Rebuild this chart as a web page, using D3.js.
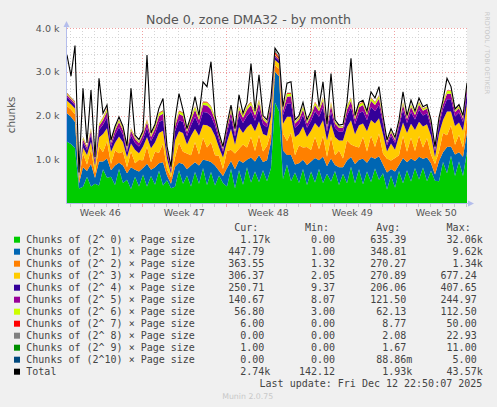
<!doctype html>
<html lang="en">
<head>
<meta charset="utf-8">
<script src="https://d3js.org/d3.v7.min.js"></script>
<style>
  body { margin:0; background:#f0f0f0; }
  svg { display:block; }
  .title { font-family:"DejaVu Sans"; font-size:12.6px; fill:#555; text-anchor:middle; }
  .tick-label { font-family:"DejaVu Sans"; font-size:9.5px; fill:#555; }
  .legend { font-family:"DejaVu Sans Mono"; font-size:10px; fill:#444; white-space:pre; }
  .grid-minor { stroke:#d4d4d4; stroke-dasharray:1,2; shape-rendering:crispEdges; }
  .grid-major { stroke:#f0a0a0; stroke-dasharray:1,2; shape-rendering:crispEdges; }
  .faint { font-family:"DejaVu Sans"; fill:#c8c8c8; }
</style>
</head>
<body>
<div id="chart"></div>
<script>
// series names / colours (munin palette)
const seriesNames = [
  "Chunks of (2^ 0) × Page size", "Chunks of (2^ 1) × Page size",
  "Chunks of (2^ 2) × Page size", "Chunks of (2^ 3) × Page size",
  "Chunks of (2^ 4) × Page size", "Chunks of (2^ 5) × Page size",
  "Chunks of (2^ 6) × Page size", "Chunks of (2^ 7) × Page size",
  "Chunks of (2^ 8) × Page size", "Chunks of (2^ 9) × Page size",
  "Chunks of (2^10) × Page size"
];
const seriesColors = ["#00cc00","#0066b3","#ff8000","#ffcc00","#330099","#990099",
                      "#ccff00","#ff0000","#808080","#008f00","#00487d"];

// one sample every 8 hours, starting here
const startTime = Date.UTC(2025, 10, 10, 17, 24);
const stepHours = 8;

const order0 = [1400,1350,1250,330,370,600,380,440,400,770,
  580,600,410,780,460,530,320,600,380,650,
  380,620,420,740,400,520,340,370,750,440,
  630,380,710,440,800,410,710,400,630,460,
  380,780,340,750,420,820,470,720,480,750,
  500,800,2300,2100,550,880,500,700,460,780,
  410,720,470,780,460,670,490,730,410,670,
  450,830,450,770,430,720,480,790,530,680,
  310,630,350,730,450,750,490,800,540,810,
  500,740,510,500,940,680,1080,620,950,620,
  1170];
const order1 = [650,620,600,120,450,130,510,130,550,180,
  440,150,450,140,400,150,500,160,340,150,
  520,140,400,170,530,110,100,460,170,450,
  140,480,220,420,190,560,230,460,110,160,
  420,180,430,230,500,170,570,230,620,190,
  480,600,700,800,650,220,600,180,450,210,
  460,230,560,200,600,170,530,140,410,150,
  520,220,440,220,580,200,570,220,540,200,
  390,150,370,140,580,180,530,160,520,200,
  540,170,140,460,220,600,210,490,210,440,
  448];
const order2 = [170,170,180,90,310,150,340,110,350,210,
  390,140,340,220,310,140,360,150,270,170,
  390,170,350,240,430,140,150,210,450,280,
  360,230,460,250,500,300,450,230,340,160,
  390,260,360,260,420,280,470,240,450,240,
  330,220,150,170,390,320,510,210,410,280,
  410,260,480,250,480,220,490,220,380,200,
  460,290,410,280,500,260,490,270,520,250,
  310,190,310,220,500,240,470,230,480,260,
  440,200,240,220,440,270,480,220,400,210,
  364];
const order3 = [120,120,130,60,140,220,170,170,200,420,
  300,280,180,380,220,230,180,310,150,320,
  220,320,220,450,290,250,80,390,270,430,
  210,450,310,430,300,510,330,450,190,260,
  210,480,200,500,260,460,300,450,320,400,
  230,350,120,120,220,550,360,420,260,480,
  230,440,320,490,350,370,310,420,230,410,
  310,550,270,510,310,460,360,540,350,440,
  170,390,190,440,310,430,320,480,320,480,
  320,430,160,410,300,540,320,430,280,380,
  306];
const order4 = [80,70,70,40,120,110,170,80,170,210,
  250,130,180,210,170,110,190,160,150,170,
  210,170,200,250,250,130,70,210,250,250,
  190,230,270,230,290,290,270,230,170,130,
  210,260,190,270,230,260,280,240,280,220,
  190,190,70,60,200,300,310,210,220,260,
  210,230,270,250,300,200,270,210,200,200,
  260,300,230,270,280,250,300,280,300,240,
  140,180,150,210,290,230,270,240,270,250,
  250,200,120,200,250,280,280,220,230,200,
  251];
const order5 = [50,45,45,25,70,60,90,50,90,110,
  130,70,100,120,100,60,110,90,80,100,
  130,90,110,140,140,70,40,110,150,140,
  100,130,160,130,160,160,150,130,90,60,
  100,130,90,130,120,140,150,120,140,110,
  90,100,40,30,100,160,160,100,110,130,
  100,120,140,130,150,90,150,100,90,90,
  140,150,110,140,140,120,140,140,150,100,
  60,80,60,80,120,90,120,100,120,110,
  110,80,60,80,110,130,130,100,100,80,
  141];
const order6 = [30,25,25,15,40,30,40,20,40,50,
  60,30,40,50,40,30,40,30,30,40,
  50,40,50,60,60,30,20,50,60,60,
  40,50,70,50,60,70,60,50,40,20,
  40,60,40,60,50,70,60,50,60,40,
  30,40,20,20,40,70,60,30,40,60,
  30,50,60,50,60,30,60,30,30,30,
  60,60,40,60,60,40,60,60,60,40,
  20,30,20,30,50,30,50,40,50,40,
  40,30,20,30,50,60,60,30,40,30,
  57];
const order7 = [12,10,14,4,9,8,11,6,10,12,
  15,7,9,11,8,5,10,8,7,9,
  12,8,10,13,14,6,3,9,12,11,
  8,10,14,10,13,12,11,9,6,4,
  8,11,7,12,10,12,13,10,14,9,
  8,9,50,30,9,14,13,8,9,11,
  8,10,12,11,13,7,12,8,7,7,
  11,13,9,11,12,10,12,11,13,8,
  4,6,5,7,10,7,9,8,9,8,
  8,6,3,6,8,9,9,6,7,5,
  6];
const order8 = [4,3,5,0,2,1,3,1,2,3,
  4,1,2,3,2,0,2,1,1,2,
  3,2,2,3,3,1,0,2,3,3,
  2,2,3,2,3,3,2,2,1,0,
  2,2,1,3,2,3,3,2,3,2,
  2,2,23,12,2,3,3,1,2,2,
  1,2,3,2,3,1,2,1,1,1,
  2,3,2,2,3,2,3,2,3,1,
  0,1,0,1,2,1,2,1,2,1,
  1,1,0,1,1,2,2,1,1,0,
  0];
const order9 = [3,2,3,0,2,1,2,1,2,2,
  3,1,2,2,1,0,2,1,1,2,
  2,1,2,2,3,1,0,2,2,2,
  1,2,2,2,3,2,2,2,1,0,
  1,2,1,2,2,2,3,2,2,1,
  2,2,11,6,2,2,2,1,2,2,
  1,2,2,2,2,1,2,1,1,1,
  2,2,1,2,2,2,2,2,2,1,
  0,1,1,1,2,1,2,1,2,1,
  1,1,0,1,1,2,2,1,1,1,
  1];
const order10 = [0,0,1,0,0,0,0,0,0,0,
  0,0,0,0,0,0,0,0,0,0,
  0,0,0,0,0,0,0,0,0,0,
  0,0,0,0,0,0,0,0,0,0,
  0,0,0,0,0,0,0,0,0,0,
  0,0,5,2,0,0,0,0,0,0,
  0,0,0,0,0,0,0,0,0,0,
  0,0,0,0,0,0,0,0,0,0,
  0,0,0,0,0,0,0,0,0,0,
  0,0,0,0,0,0,0,0,0,0,
  0];
const total = [3380,2900,3600,700,2620,1370,2580,1050,2850,2050,
  2240,1440,1750,1970,1750,1300,2620,1550,1450,1650,
  3380,1600,1800,2170,2390,1300,830,1900,2500,2130,
  1700,2000,2430,2000,2770,2660,3230,2000,1600,1290,
  1800,2240,1700,2470,2050,2300,3190,2100,2930,2000,
  1900,2400,3540,3400,2200,2740,2770,1900,2000,2300,
  1900,2100,3040,2200,2770,1800,2960,1900,1780,1800,
  2300,3310,2000,2300,2350,2100,2540,2400,2660,2000,
  1440,1700,1500,1900,2540,2000,2350,2100,2400,2200,
  2250,1900,1290,1950,2350,2850,2660,2150,2250,2000,
  2744];

// legend stats (last entry = Total)
const curStats = [1170, 447.79, 363.55, 306.37, 250.71, 140.67, 56.80, 6.00, 0.00, 1.00, 0.00, 2740];
const minStats = [0.00, 1.00, 1.32, 2.05, 9.37, 8.07, 3.00, 0.00, 0.00, 0.00, 0.00, 142.12];
const avgStats = [635.39, 348.81, 270.27, 270.89, 206.06, 121.50, 62.13, 8.77, 2.08, 1.67, 0.08886, 1930];
const maxStats = [32060, 9620, 1340, 677.24, 407.65, 244.97, 112.50, 50.00, 22.93, 11.00, 5.00, 43570];

const yTicks = [1000, 2000, 3000, 4000];
const yMax = 4000;

const W = 497, H = 407;
const plot = {left: 67, right: 467, top: 28, bottom: 203};

const allSeries = [order0, order1, order2, order3, order4, order5, order6, order7, order8, order9, order10];
const rows = total.map(function(t, i) {
  let r = {time: new Date(startTime + i * stepHours * 3600e3), total: t};
  allSeries.forEach(function(s, k) { r["s" + k] = s[i]; });
  return r;
});
const keys = allSeries.map((s, k) => "s" + k);
const endTime = new Date(startTime + (total.length - 1) * stepHours * 3600e3);

const svg = d3.select("#chart").append("svg")
  .attr("width", W).attr("height", H);
svg.append("rect").attr("width", W).attr("height", H).attr("fill", "#f0f0f0");

const x = d3.scaleUtc().domain([new Date(startTime), endTime]).range([plot.left, plot.right]);
const y = d3.scaleLinear().domain([0, yMax]).range([plot.bottom, plot.top]);

// plot background
svg.append("rect")
  .attr("x", plot.left).attr("y", plot.top)
  .attr("width", plot.right - plot.left).attr("height", plot.bottom - plot.top)
  .attr("fill", "#ffffff");

// grid
const grid = svg.append("g");
const minorY = d3.range(200, yMax + 1, 200).filter(v => v % 1000 !== 0);
grid.selectAll(".hmin").data(minorY).enter().append("line")
  .attr("class", "grid-minor")
  .attr("x1", plot.left).attr("x2", plot.right)
  .attr("y1", d => Math.round(y(d)) + 0.5).attr("y2", d => Math.round(y(d)) + 0.5);
const days = d3.utcDay.range(x.domain()[0], x.domain()[1]).filter(d => d.getUTCDay() !== 1);
grid.selectAll(".vmin").data(days).enter().append("line")
  .attr("class", "grid-minor")
  .attr("x1", d => Math.round(x(d)) + 0.5).attr("x2", d => Math.round(x(d)) + 0.5)
  .attr("y1", plot.top).attr("y2", plot.bottom);
grid.selectAll(".hmaj").data(yTicks).enter().append("line")
  .attr("class", "grid-major")
  .attr("x1", plot.left).attr("x2", plot.right)
  .attr("y1", d => Math.round(y(d)) + 0.5).attr("y2", d => Math.round(y(d)) + 0.5);
const mondays = d3.utcMonday.range(x.domain()[0], x.domain()[1]);
grid.selectAll(".vmaj").data(mondays).enter().append("line")
  .attr("class", "grid-major")
  .attr("x1", d => Math.round(x(d)) + 0.5).attr("x2", d => Math.round(x(d)) + 0.5)
  .attr("y1", plot.top).attr("y2", plot.bottom);

// stacked areas
svg.append("clipPath").attr("id", "clip").append("rect")
  .attr("x", plot.left).attr("y", plot.top - 10)
  .attr("width", plot.right - plot.left).attr("height", plot.bottom - plot.top + 10);

const stacked = d3.stack().keys(keys)(rows);
const area = d3.area()
  .x(d => x(d.data.time))
  .y0(d => y(d[0]))
  .y1(d => y(d[1]));

const g = svg.append("g").attr("clip-path", "url(#clip)");
g.selectAll(".layer").data(stacked).enter().append("path")
  .attr("class", "layer")
  .attr("fill", (d, i) => seriesColors[i])
  .attr("d", area);

const totalLine = d3.line().x(d => x(d.time)).y(d => y(d.total));
g.append("path").datum(rows)
  .attr("fill", "none").attr("stroke", "#000").attr("stroke-width", 1.1)
  .attr("d", totalLine);

// axes
const axisColor = "#b4bdec";
svg.append("line").attr("x1", plot.left - 0.5).attr("x2", plot.left - 0.5)
  .attr("y1", plot.bottom + 0.5).attr("y2", 24).attr("stroke", axisColor);
svg.append("path").attr("d", `M${plot.left - 3.5},27 L${plot.left + 2.5},27 L${plot.left - 0.5},21 Z`).attr("fill", axisColor);
svg.append("line").attr("x1", plot.left - 0.5).attr("x2", 471)
  .attr("y1", plot.bottom + 0.5).attr("y2", plot.bottom + 0.5).attr("stroke", axisColor);
svg.append("path").attr("d", `M468,${plot.bottom - 2.5} L468,${plot.bottom + 3.5} L474,${plot.bottom + 0.5} Z`).attr("fill", axisColor);

// small tick marks under the x axis
svg.selectAll(".xt").data(days.concat(mondays)).enter().append("line")
  .attr("x1", d => Math.round(x(d)) + 0.5).attr("x2", d => Math.round(x(d)) + 0.5)
  .attr("y1", plot.bottom + 1).attr("y2", plot.bottom + 4)
  .attr("stroke", d => d.getUTCDay() === 1 ? "#f0a0a0" : "#c8c8c8");

// y tick labels
svg.selectAll(".ylab").data(yTicks).enter().append("text")
  .attr("class", "tick-label")
  .attr("text-anchor", "end")
  .attr("x", 59.5).attr("y", d => y(d) + 3.5)
  .text(d => (d / 1000).toFixed(1) + " k");

// week labels centred in each week
const weekFmt = d3.utcFormat("%V");
const weekStarts = d3.utcMonday.range(d3.utcMonday.floor(x.domain()[0]), x.domain()[1]);
svg.selectAll(".xlab").data(weekStarts.filter(function(m) {
    const mid = x(new Date(+m + 3.5 * 864e5));
    return mid > plot.left + 15 && mid < plot.right - 15;
  })).enter().append("text")
  .attr("class", "tick-label")
  .attr("text-anchor", "middle")
  .attr("x", d => x(new Date(+d + 3.5 * 864e5)))
  .attr("y", 215.5)
  .text(d => "Week " + weekFmt(d));

// title, vertical label, watermark
svg.append("text").attr("class", "title").attr("x", 248.5).attr("y", 24.3)
  .text("Node 0, zone DMA32 - by month");
svg.append("text").attr("class", "tick-label")
  .attr("transform", "translate(14.5,115) rotate(-90)")
  .attr("text-anchor", "middle").style("font-size", "10.3px")
  .text("chunks");
svg.append("text").attr("class", "faint")
  .attr("transform", "translate(485,53) rotate(90)")
  .attr("text-anchor", "middle").style("font-size", "6.4px")
  .text("RRDTOOL / TOBI OETIKER");

// legend
function siParts(v) {
  if (v === 0) return ["0.00", ""];
  const units = ["m", "", "k", "M"];
  let e = Math.floor(Math.log10(Math.abs(v)) / 3);
  e = Math.max(-1, Math.min(2, e));
  return [(v / Math.pow(1000, e)).toFixed(2), units[e + 1]];
}

const legend = svg.append("g");
const colNumRight = [264.3, 335, 406.3, 476.7];
const headers = ["Cur:", "Min:", "Avg:", "Max:"];
headers.forEach(function(h, c) {
  legend.append("text").attr("class", "legend")
    .attr("x", colNumRight[c] - 6).attr("y", 231.3)
    .attr("text-anchor", "end").text(h);
});

const legendNames = seriesNames.concat(["Total"]);
const legendColors = seriesColors.concat(["#000000"]);
const statCols = [curStats, minStats, avgStats, maxStats];
legendNames.forEach(function(name, i) {
  const cy = 239.7 + i * 12;
  legend.append("rect").attr("x", 14).attr("y", cy - 3).attr("width", 6).attr("height", 6)
    .attr("fill", legendColors[i]);
  legend.append("text").attr("class", "legend").attr("x", 26.3).attr("y", cy + 3.6).text(name);
  statCols.forEach(function(col, c) {
    const p = siParts(col[i]);
    legend.append("text").attr("class", "legend")
      .attr("x", colNumRight[c]).attr("y", cy + 3.6)
      .attr("text-anchor", "end").text(p[0]);
    if (p[1]) legend.append("text").attr("class", "legend")
      .attr("x", colNumRight[c]).attr("y", cy + 3.6).text(p[1]);
  });
});

legend.append("text").attr("class", "legend")
  .attr("x", 482.3).attr("y", 387).attr("text-anchor", "end")
  .text("Last update: Fri Dec 12 22:50:07 2025");
svg.append("text").attr("class", "faint")
  .attr("x", 247.7).attr("y", 399).attr("text-anchor", "middle").style("font-size", "7.8px")
  .text("Munin 2.0.75");
</script>
</body>
</html>
